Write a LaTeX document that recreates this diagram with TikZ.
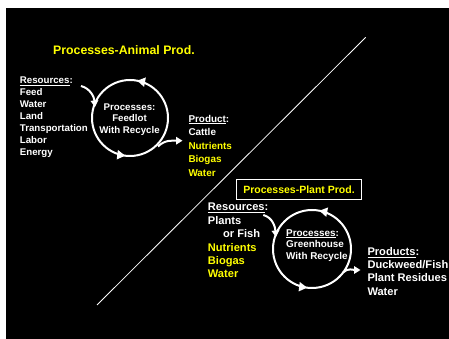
\documentclass[tikz,border=0pt]{standalone}
\usepackage{fontspec}
\setmainfont{Liberation Sans}
\usetikzlibrary{arrows.meta,decorations.markings}
\definecolor{yel}{RGB}{255,255,0}
\begin{document}
\begin{tikzpicture}[x=1pt,y=1pt,
  txt/.style={inner sep=0pt, anchor=base west, text=white, font=\bfseries\fontsize{#1}{#1}\selectfont},
  ytxt/.style={txt=#1, text=yel},
  ctxt/.style={txt=#1, anchor=base},
  cyc/.style={draw=white, line width=2pt, postaction={decorate},
    decoration={markings,
      mark=at position 0.22 with {\arrow{Triangle[length=8pt,width=9pt]}},
      mark=at position 0.73 with {\arrow{Triangle[length=8pt,width=9pt]}}}},
  conn/.style={draw=white, line width=2pt, -{Triangle[length=6.5pt,width=7.5pt]}}]
\useasboundingbox (0,0) rectangle (449,339);
\fill[white] (0,0) rectangle (449,339);
\fill[black] (6,0) rectangle (449,331);

% diagonal
\coordinate (dA) at (365.7,301.7);
\coordinate (dB) at (97,34);
\draw[white, line width=0.8pt] (dA) -- (dB);

% ---------- Animal production ----------
\node[ytxt=12.3] (t1) at (53,284) {Processes-Animal Prod.};

\node[txt=9.7] (r1) at (19.7,255.5) {\underline{Resources}:};
\node[txt=9.7] (r1a) at (19.7,243.2) {Feed};
\node[txt=9.7] (r1b) at (19.7,231.2) {Water};
\node[txt=9.7] (r1c) at (19.7,219.2) {Land};
\node[txt=9.7] (r1d) at (19.7,207.2) {Transportation};
\node[txt=9.7] (r1e) at (19.7,195.2) {Labor};
\node[txt=9.7] (r1f) at (19.7,183.2) {Energy};

\coordinate (c1) at (130,221);
\draw[cyc] (c1) ++(0:38) arc[start angle=0, end angle=360, radius=38];
\node[ctxt=9.7] (p1a) at (129.5,228.8) {Processes:};
\node[ctxt=9.7] (p1b) at (129.5,217.2) {Feedlot};
\node[ctxt=9.7] (p1c) at (129.5,205.2) {With Recycle};

\coordinate (in1s) at (81,253);
\coordinate (in1e) at (95,232);
\draw[conn] (in1s) to[out=-15, in=95] (in1e);
\coordinate (out1s) at (158,192.5);
\coordinate (out1e) at (182.5,198.3);
\draw[conn] (out1s) to[out=45, in=180] (out1e);

\node[txt=9.9] (pr1) at (188.3,216.8) {\underline{Product}:};
\node[txt=9.9] (pr1a) at (188.3,203.8) {Cattle};
\node[ytxt=9.9] (pr1b) at (188.3,189.8) {Nutrients};
\node[ytxt=9.9] (pr1c) at (188.3,176.5) {Biogas};
\node[ytxt=9.9] (pr1d) at (188.3,162.8) {Water};

% ---------- Plant production ----------
\node[draw=white, line width=0.8pt, minimum width=125.4pt, minimum height=20pt,
  inner sep=0pt, text=yel, font=\bfseries\fontsize{10.5}{10.5}\selectfont] (t2) at (299,149.7) {Processes-Plant Prod.};

\node[txt=11.1] (r2) at (207.7,128) {\underline{Resources}:};
\node[txt=11.1] (r2a) at (207.7,114) {Plants};
\node[txt=11.1] (r2b) at (223,101) {or Fish};
\node[ytxt=11.1] (r2c) at (207.7,87.7) {Nutrients};
\node[ytxt=11.1] (r2d) at (207.7,74) {Biogas};
\node[ytxt=11.1] (r2e) at (207.7,61) {Water};

\coordinate (c2) at (312,90);
\draw[cyc] (c2) ++(0:39) arc[start angle=0, end angle=360, radius=39];
\node[txt=9.9] (p2a) at (286,102.8) {\underline{Processes}:};
\node[txt=9.9] (p2b) at (286,91.2) {Greenhouse};
\node[txt=9.9] (p2c) at (286,79.2) {With Recycle};

\coordinate (in2s) at (263.3,124);
\coordinate (in2e) at (276,102);
\draw[conn] (in2s) to[out=-15, in=95] (in2e);
\coordinate (out2s) at (343,66.5);
\coordinate (out2e) at (360.5,69);
\draw[conn] (out2s) to[out=45, in=180] (out2e);

\node[txt=11.1] (pr2) at (367.3,83) {\underline{Products}:};
\node[txt=11.1] (pr2a) at (367.3,70) {Duckweed/Fish};
\node[txt=11.1] (pr2b) at (367.3,57) {Plant Residues};
\node[txt=11.1] (pr2c) at (367.3,43) {Water};
\end{tikzpicture}
\end{document}
